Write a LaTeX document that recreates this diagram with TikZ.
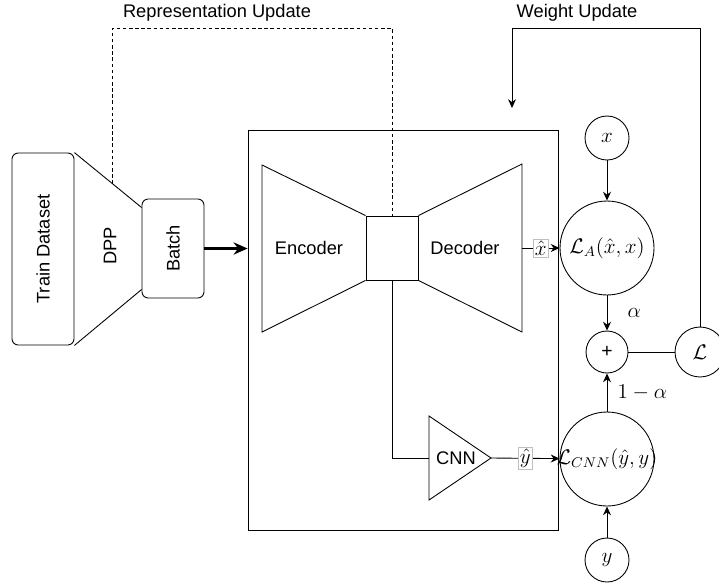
\documentclass[tikz,border=0pt]{standalone}
\usepackage{fontspec}
\usepackage{amsmath}
\usetikzlibrary{arrows.meta,calc,positioning}
\newfontfamily\diagfont{Liberation Sans}

\begin{document}
\begin{tikzpicture}[x=0.02cm, y=-0.02cm, inner sep=3pt, line width=0.5pt]
	\tikzstyle{every node}=[font=\diagfont\fontsize{10.4}{12}\selectfont]
	\tikzstyle{box}=[draw, rounded corners=3.5pt, minimum width=1.24cm]
	\tikzstyle{mathlabel}=[font=\fontsize{12}{14}\selectfont]
	\tikzstyle{loss}=[draw, circle, inner sep=0pt, mathlabel]
	\tikzstyle{hatlabel}=[draw=black!25, line width=0.4pt, fill=white, inner sep=1pt, mathlabel]
	\tikzstyle{arr}=[-{Stealth[length=5pt, width=4.5pt]}]
	\useasboundingbox (0, 0) rectangle (719, 582);
	\coordinate (reptop) at (0, 28);

	\node[box, minimum height=3.84cm] (train) at (43, 249) {};
	\node[rotate=90] (traintext) at (train) {Train Dataset};
	\node[box, minimum height=1.98cm] (batch) at (173, 248.5) {};
	\node[rotate=90] (batchtext) at (batch) {Batch};
	\coordinate (dppa) at ($(batch.west)+(0, -41)$);
	\coordinate (dppb) at ($(batch.west)+(0, 41)$);
	\draw (train.north east) -- (dppa) (dppb) -- (train.south east);
	\node[rotate=90] (dpp) at (110, 246) {DPP};
	\coordinate (dpptop) at ($(train.north east)!0.57!(dppa)$);

	\node[draw, minimum width=6.2cm, minimum height=8cm] (model) at (403, 330) {};
	\draw[line width=1.3pt, -{Stealth[length=8pt, width=7pt]}] (batch.east) -- (batch.east -| model.west);

	\node[draw, minimum width=1.04cm, minimum height=1.28cm, inner sep=0pt] (latent) at (392, 248) {};
	\draw (latent.north west) -- (262, 165) -- (262, 332) -- (latent.south west);
	\node (encoder) at (309, 248) {Encoder};
	\coordinate (dectop) at (522, 164);
	\coordinate (decbot) at (522, 332);
	\coordinate (decout) at ($(dectop)!0.5!(decbot)$);
	\draw (latent.north east) -- (dectop) -- (decbot) -- (latent.south east);
	\node (decoder) at (465, 248) {Decoder};

	\coordinate (cnnin) at (429, 458);
	\coordinate (cnnout) at (491, 458);
	\draw ($(cnnin)+(0, -42)$) -- (cnnout) -- ($(cnnin)+(0, 42)$) -- cycle;
	\node (cnn) at (456, 458) {CNN};
	\draw (latent.south) |- (cnnin);

	\draw[dashed, dash pattern=on 2pt off 1.5pt, line width=0.5pt] (dpptop) -- (dpptop |- reptop) -| (latent.north);
	\node (repupdate) at (217, 13) {Representation Update};

	\node[loss, minimum size=0.88cm] (xin) at (607, 138) {$x$};
	\node[loss, minimum size=1.88cm] (la) at (607, 248) {$\mathcal{L}_A(\hat{x}, x)$};
	\node[loss, minimum size=0.84cm, font=\diagfont\fontsize{11}{13}\selectfont] (plus) at (607, 352) {+};
	\node[loss, minimum size=1.0cm] (total) at (700, 352) {$\mathcal{L}$};
	\node[loss, minimum size=1.88cm] (lcnn) at (607, 459) {\makebox[0pt]{$\mathcal{L}_{CNN}(\hat{y}, y)$}};
	\node[loss, minimum size=0.88cm] (yin) at (607, 560) {$y$};

	\draw[arr] (decout) -- node[hatlabel] {$\hat{x}$} (la);
	\draw[arr] (cnnout) -- node[hatlabel] {$\hat{y}$} (lcnn);
	\draw[arr] (xin) -- (la);
	\draw[arr] (la) -- node[midway, right, xshift=0.3cm, mathlabel] {$\alpha$} (plus);
	\draw[arr] (lcnn) -- node[midway, right, xshift=0.1cm, mathlabel] {$1-\alpha$} (plus);
	\draw[arr] (yin) -- (lcnn);
	\draw (plus) -- (total);

	\coordinate (wuend) at (512, 108);
	\draw[arr] (total.north) -- (total.north |- reptop) -| (wuend);
	\node (wtupdate) at (577, 13) {Weight Update};
\end{tikzpicture}
\end{document}
